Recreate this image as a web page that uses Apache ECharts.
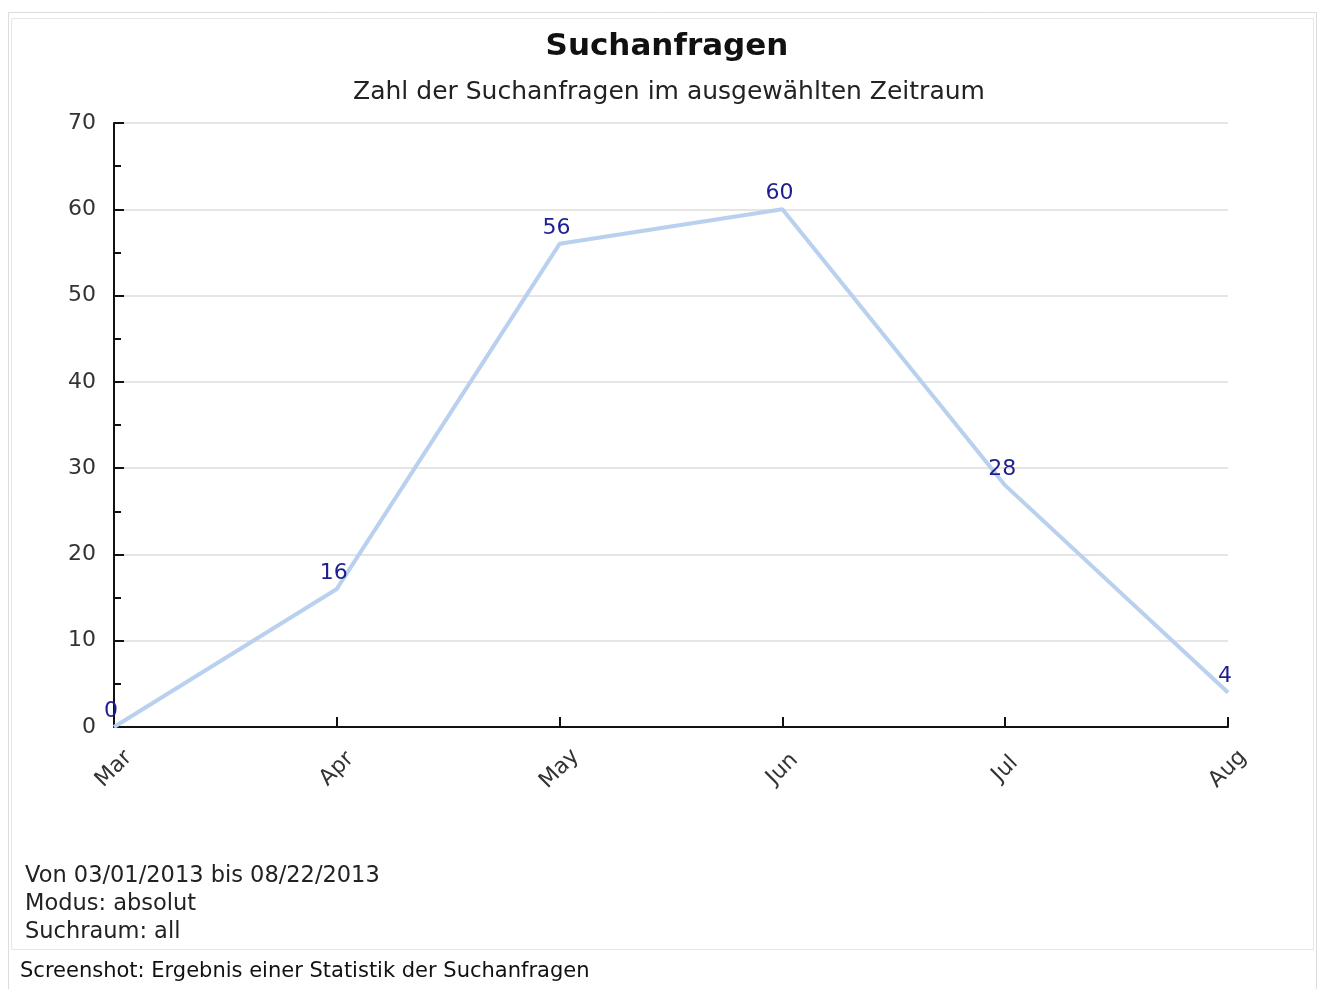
<!DOCTYPE html>
<html>
<head>
	<meta charset="UTF-8">
	<title>Suchanfragen</title>
	<style>
		html, body { margin: 0; padding: 0; background: #fff; }
		#main { width: 1322px; height: 989px; }
	</style>
</head>
<body>
<div id="main"></div>

<script src="https://cdn.jsdelivr.net/npm/echarts@6/dist/echarts.min.js" type="text/javascript"></script>
<script type="text/javascript">
	// Daten
	var months = ['Mar', 'Apr', 'May', 'Jun', 'Jul', 'Aug'];
	var anfragen = [0, 16, 56, 60, 28, 4];
	var infoZeilen = ['Von 03/01/2013 bis 08/22/2013', 'Modus: absolut', 'Suchraum: all'];
	var titel = 'Suchanfragen';
	var untertitel = 'Zahl der Suchanfragen im ausgewählten Zeitraum';
	var bildunterschrift = 'Screenshot: Ergebnis einer Statistik der Suchanfragen';

	var font = 'DejaVu Sans';
	var myChart = echarts.init(document.getElementById('main'));

	var graphics = [
		{ type: 'rect', shape: { x: 8.5, y: 12.5, width: 1308, height: 1000 },
			style: { fill: 'none', stroke: '#dcdcdc', lineWidth: 1 }, z: 0 },
		{ type: 'rect', shape: { x: 11.5, y: 18.5, width: 1302, height: 931 },
			style: { fill: 'none', stroke: '#e6e6e6', lineWidth: 1 }, z: 0 },
		{ type: 'text', x: 667, y: 47,
			style: { text: titel, font: 'bold 31px "DejaVu Sans"', fill: '#111', align: 'center', verticalAlign: 'middle' } },
		{ type: 'text', x: 669, y: 92,
			style: { text: untertitel, font: '25px "DejaVu Sans"', fill: '#222', align: 'center', verticalAlign: 'middle' } },
		{ type: 'text', x: 20, y: 972,
			style: { text: bildunterschrift, font: '21px "DejaVu Sans"', fill: '#111', verticalAlign: 'middle' } }
	];
	infoZeilen.forEach(function(z, i) {
		graphics.push({ type: 'text', x: 25, y: 876 + i * 28,
			style: { text: z, font: '22.5px "DejaVu Sans"', fill: '#222', verticalAlign: 'middle' } });
	});

	var option = {
		backgroundColor: '#fff',
		animation: false,
		textStyle: { fontFamily: font },
		grid: { left: 114, right: 94, top: 123, bottom: 262 },
		xAxis: {
			type: 'category',
			data: months,
			boundaryGap: false,
			axisLine: { lineStyle: { color: '#111', width: 2 } },
			axisTick: { inside: true, length: 10, lineStyle: { color: '#111', width: 2 } },
			axisLabel: { rotate: 45, align: 'center', verticalAlign: 'middle', margin: 42,
				fontSize: 22, color: '#333', fontFamily: font },
			splitLine: { show: false }
		},
		yAxis: {
			type: 'value',
			min: 0, max: 70, interval: 10,
			axisLine: { show: true, lineStyle: { color: '#111', width: 2 } },
			axisTick: { show: true, inside: true, length: 10, lineStyle: { color: '#111', width: 2 } },
			minorTick: { show: true, splitNumber: 2, length: 7, lineStyle: { color: '#111', width: 2 } },
			axisLabel: { margin: 18, fontSize: 22, color: '#333', fontFamily: font },
			splitLine: { show: true, lineStyle: { color: '#dddddd', width: 1.5 } }
		},
		series: [{
			name: 'Suchanfragen',
			type: 'line',
			data: anfragen,
			symbol: 'circle',
			symbolSize: 0,
			lineStyle: { color: '#b9d0ee', width: 4 },
			itemStyle: { color: '#b9d0ee' },
			label: { show: true, position: 'top', distance: 5, offset: [-3, 0],
				fontSize: 22, color: '#1e1e8e', fontFamily: font }
		}],
		graphic: graphics
	};
	myChart.setOption(option);
</script>
</body>
</html>
